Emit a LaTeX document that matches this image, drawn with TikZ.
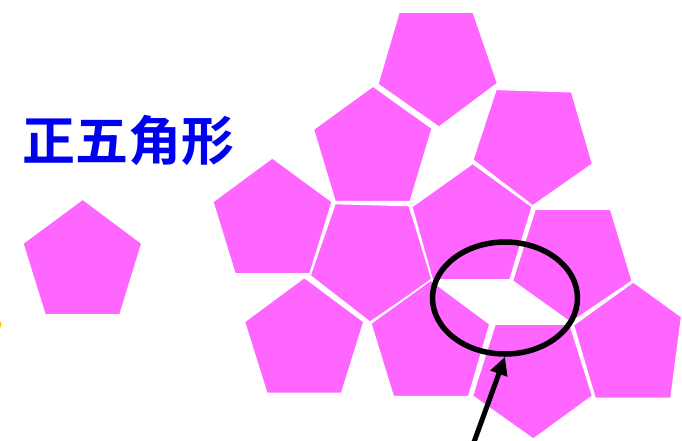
\documentclass[tikz,border=0pt]{standalone}
\usepackage{fontspec}
\newfontfamily\cjk{Noto Sans CJK SC Bold}
\usetikzlibrary{arrows.meta,shapes.geometric}
\definecolor{pent}{RGB}{255,102,255}
\definecolor{ttl}{RGB}{0,0,240}
\definecolor{sunorange}{RGB}{255,190,0}
\tikzset{
  pentbox/.style={fill=pent,draw=white,line width=1.6pt,line join=miter},
  ring/.style={draw=black,line width=5.5pt},
  pointer/.style={draw=black,line width=5pt,-{Triangle[length=18pt,width=17pt]}}
}
\begin{document}
\begin{tikzpicture}[x=1pt,y=-1pt]
\useasboundingbox (0,0) rectangle (682,440);
\fill[white] (0,0) rectangle (682,440);
% small orange mark at left edge
\fill[sunorange] (-2,324.5) circle (3.5);
% title
\node[text=ttl,font=\cjk\fontsize{53}{57}\selectfont,inner sep=0pt] (title) at (128,140) {正五角形};
% single pentagon
\filldraw[pentbox] (82.7,199) -- (142,243.3) -- (120,315) -- (45,315) -- (22.7,243.3) -- cycle;
% tiling
\filldraw[pentbox] (399,12) -- (473.3,12) -- (497.7,83.3) -- (439,127.3) -- (377.7,84.3) -- cycle;
\filldraw[pentbox] (373,86) -- (432.3,128.3) -- (410.3,201.7) -- (335,201.7) -- (313.3,129.3) -- cycle;
\filldraw[pentbox] (496,89.3) -- (571.7,91.7) -- (592.7,164) -- (532.7,206) -- (472.7,160) -- cycle;
\filldraw[pentbox] (272.3,157.7) -- (332.3,201.7) -- (310,274) -- (235,274) -- (212.7,201.7) -- cycle;
\filldraw[pentbox] (335,203.5) -- (409.3,205.5) -- (432.3,280) -- (370,322.3) -- (310,275.7) -- cycle;
\filldraw[pentbox] (472.7,163.3) -- (532.3,206.7) -- (510,280) -- (432.3,280) -- (411.7,206.7) -- cycle;
\filldraw[pentbox] (535,209) -- (610.7,209) -- (632.3,281) -- (570.7,322.7) -- (512.3,281) -- cycle;
\filldraw[pentbox] (304.3,277.3) -- (364,321.7) -- (341.7,393.3) -- (266.7,393.3) -- (244.3,321.7) -- cycle;
\filldraw[pentbox] (430.7,280) -- (490,324) -- (468.7,396.7) -- (393.3,396.7) -- (370.7,323.3) -- cycle;
\filldraw[pentbox] (495,324) -- (570,324) -- (592.7,396) -- (533.3,439.3) -- (472.3,396) -- cycle;
\filldraw[pentbox] (633.3,281.7) -- (681.7,316.7) -- (671,398.3) -- (595,398.3) -- (573.3,325) -- cycle;
% ring and arrow
\node[ring,ellipse,minimum width=145pt,minimum height=112pt,inner sep=0pt] (ring) at (505,298) {};
\coordinate (tail) at (474,442);
\draw[pointer] (tail) -- (ring.south);
\end{tikzpicture}
\end{document}
